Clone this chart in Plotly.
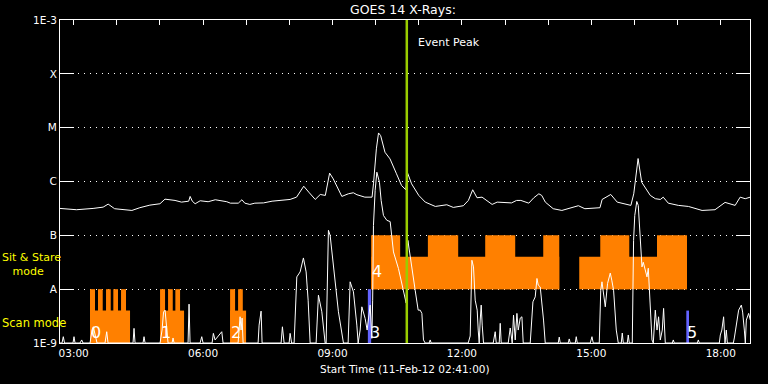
import numpy as np
import pandas as pd
import plotly.graph_objects as go

DAY = "2012-02-11 "

# ---------------- GOES long channel (upper curve) ----------------
long_time = [
    "02:41", "03:04", "03:27", "03:41", "03:48", "03:57", "04:21", "04:32", "04:46", "05:00",
    "05:07", "05:21", "05:30", "05:40", "05:42", "05:45", "05:49", "05:56", "06:07", "06:17",
    "06:33", "06:38", "06:49", "06:54", "06:58", "07:05", "07:12", "07:24", "07:36", "07:59",
    "08:01", "08:10", "08:20", "08:27", "08:36", "08:43", "08:50", "08:56", "09:01", "09:13",
    "09:22", "09:29", "09:34", "09:45", "09:55", "09:57", "10:01", "10:04", "10:07", "10:13",
    "10:20", "10:29", "10:36", "10:42", "10:44", "10:50", "11:00", "11:09", "11:23", "11:39",
    "11:48", "12:02", "12:09", "12:15", "12:21", "12:28", "12:42", "12:49", "13:09", "13:16",
    "13:22", "13:33", "13:40", "13:47", "13:51", "13:56", "14:07", "14:19", "14:31", "14:42",
    "14:51", "15:12", "15:15", "15:22", "15:27", "15:36", "15:47", "15:55", "15:59", "16:01",
    "16:05", "16:10", "16:22", "16:29", "16:36", "16:40", "16:47", "17:01", "17:15", "17:34",
    "17:52", "18:06", "18:13", "18:20", "18:27", "18:34", "18:41"]
long_flux = [
    3.16e-7, 2.99e-7, 3.16e-7, 3.34e-7, 3.80e-7, 3.12e-7, 2.90e-7, 3.26e-7, 3.64e-7, 3.86e-7,
    4.70e-7, 4.45e-7, 4.14e-7, 4.31e-7, 5.28e-7, 4.30e-7, 3.86e-7, 4.39e-7, 4.21e-7, 4.58e-7,
    4.21e-7, 3.96e-7, 3.96e-7, 4.58e-7, 3.96e-7, 3.75e-7, 3.96e-7, 4.00e-7, 4.31e-7, 4.58e-7,
    4.64e-7, 5.12e-7, 8.18e-7, 6.34e-7, 4.64e-7, 5.74e-7, 5.51e-7, 1.43e-6, 1.12e-6, 5.28e-7,
    5.91e-7, 6.18e-7, 5.68e-7, 5.12e-7, 5.12e-7, 9.06e-7, 4.04e-6, 7.98e-6, 7.11e-6, 3.49e-6,
    2.63e-6, 1.39e-6, 8.43e-7, 7.02e-7, 1.49e-6, 9.06e-7, 5.51e-7, 4.14e-7, 3.44e-7, 3.70e-7,
    3.30e-7, 3.55e-7, 4.45e-7, 7.02e-7, 4.99e-7, 5.12e-7, 3.75e-7, 4.14e-7, 4.00e-7, 4.45e-7,
    4.45e-7, 3.96e-7, 4.99e-7, 5.91e-7, 5.51e-7, 4.14e-7, 3.12e-7, 2.90e-7, 3.21e-7, 3.55e-7,
    3.12e-7, 3.26e-7, 4.64e-7, 5.28e-7, 5.74e-7, 4.14e-7, 3.86e-7, 3.60e-7, 5.91e-7, 1.04e-6,
    2.67e-6, 9.70e-7, 5.51e-7, 4.79e-7, 4.64e-7, 5.12e-7, 3.96e-7, 3.60e-7, 3.44e-7, 2.90e-7,
    2.99e-7, 4.09e-7, 3.86e-7, 3.60e-7, 5.12e-7, 4.79e-7, 5.12e-7]

# ---------------- GOES short channel (lower curve) ----------------
short_time = [
    "02:41:00", "02:43:47", "02:45:36", "02:47:16", "02:59:05", "03:00:29", "03:01:52",
    "03:08:50", "03:11:12", "03:13:00", "03:22:45", "03:25:32", "03:27:20", "03:29:42", "03:32:29",
    "03:43:37", "03:45:59", "03:47:48", "04:22:35", "04:23:58", "04:25:22",
    "04:36:30", "04:37:53", "04:39:17",
    "05:00:09", "05:02:56", "05:05:01", "05:07:06", "05:09:12", "05:11:17",
    "05:16:51", "05:18:14", "05:19:38", "05:39:07", "05:40:30", "05:41:54",
    "05:55:49", "05:58:10", "05:59:59",
    "06:12:30", "06:14:19", "06:16:41", "06:26:00", "06:27:49",
    "06:48:41", "06:51:28", "06:52:52", "06:54:15", "06:55:39",
    "07:16:31", "07:17:55", "07:20:41", "07:22:05",
    "07:48:31", "07:50:20", "07:52:42", "07:59:39", "08:01:03", "08:03:08",
    "08:06:37", "08:10:22", "08:14:58", "08:19:33", "08:23:19", "08:26:06", "08:28:53",
    "08:37:13", "08:40:26", "08:45:10", "08:49:45",
    "08:51:08", "08:54:20", "08:56:42", "09:01:18", "09:08:15", "09:15:13",
    "09:21:45", "09:24:32", "09:29:08", "09:33:51", "09:35:40",
    "09:38:27", "09:40:49", "09:45:24", "09:48:11", "09:52:22", "09:54:44", "09:55:51",
    "09:56:58", "09:59:19", "10:01:41", "10:05:18", "10:07:40", "10:10:52", "10:15:36",
    "10:20:12", "10:24:47", "10:31:45", "10:38:42", "10:42:28",
    "10:44:50", "10:49:25", "10:54:59", "10:59:09", "11:01:56", "11:04:18", "11:06:32", "11:08:54",
    "11:14:28", "11:15:51", "11:17:15",
    "12:08:44", "12:11:31", "12:13:53", "12:16:06", "12:18:28", "12:21:15", "12:22:39",
    "12:24:02", "12:25:26", "12:26:49", "12:28:13", "12:30:01",
    "12:43:31", "12:46:18", "12:47:42", "12:51:52", "12:53:16", "12:54:39",
    "13:04:24", "13:07:11", "13:09:57", "13:11:46", "13:14:08", "13:16:30", "13:18:18",
    "13:21:05", "13:23:27", "13:25:16",
    "13:35:00", "13:38:46", "13:41:58", "13:44:20", "13:46:08", "13:48:55", "13:53:31", "13:55:53",
    "14:13:58", "14:15:22", "14:16:45", "14:27:53", "14:29:16", "14:30:40",
    "14:37:37", "14:39:01", "14:40:24", "14:58:30", "15:00:52", "15:02:40",
    "15:11:01", "15:13:06", "15:14:47", "15:16:35", "15:19:22", "15:22:34", "15:26:20",
    "15:28:25", "15:30:56", "15:34:40", "15:37:27",
    "15:41:38", "15:43:01", "15:44:25", "15:49:59", "15:51:22", "15:52:46",
    "15:56:56", "15:58:45", "16:00:25", "16:03:12", "16:05:17", "16:08:04", "16:10:26",
    "16:12:15", "16:15:02", "16:17:24", "16:19:12", "16:21:59", "16:24:21", "16:26:10",
    "16:27:33", "16:28:57", "16:31:19", "16:33:32", "16:35:54", "16:38:41", "16:40:30", "16:42:51",
    "16:52:36", "16:53:59", "16:55:23", "17:27:23", "17:28:47", "17:30:10",
    "17:58:00", "17:59:23", "18:01:29", "18:03:59", "18:05:56", "18:07:44", "18:09:08",
    "18:17:29", "18:18:52", "18:21:39", "18:24:51", "18:28:37", "18:30:25", "18:32:47",
    "18:34:11", "18:35:34", "18:38:47", "18:41:08"]
short_flux = [
    1e-9, 1e-9, 1.31e-9, 1e-9, 1e-9, 1.31e-9, 1e-9,
    1e-9, 1.14e-9, 1e-9, 1e-9, 1.74e-9, 2.00e-9, 1.41e-9, 1e-9,
    1e-9, 1.62e-9, 1e-9, 1e-9, 1.87e-9, 1e-9,
    1e-9, 1.31e-9, 1e-9,
    1e-9, 1.74e-9, 3.75e-9, 4.08e-9, 2.15e-9, 1e-9,
    1e-9, 1.24e-9, 1e-9, 1e-9, 5.27e-9, 1e-9,
    1e-9, 1.31e-9, 1e-9,
    1e-9, 1.51e-9, 1.14e-9, 1.62e-9, 1e-9,
    1e-9, 3.07e-9, 1.74e-9, 2.90e-9, 1e-9,
    1e-9, 2.15e-9, 3.91e-9, 1e-9,
    1e-9, 2.00e-9, 1e-9, 1e-9, 1.51e-9, 1e-9,
    1e-9, 1.69e-8, 2.09e-8, 3.80e-8, 2.09e-8, 6.25e-9, 1e-9,
    1e-9, 7.74e-9, 3.80e-9, 1e-9,
    1e-9, 1.24e-7, 1.00e-7, 2.41e-8, 3.80e-9, 1e-9,
    1e-9, 1.37e-8, 8.91e-9, 2.15e-9, 1e-9,
    1.74e-9, 4.70e-9, 2.86e-9, 1.74e-9, 5.06e-9, 1.22e-9, 6.25e-9,
    1.53e-7, 6.81e-7, 1.49e-6, 9.70e-7, 4.45e-7, 2.34e-7, 1.90e-7,
    1.80e-7, 4.91e-8, 2.41e-8, 9.58e-9, 5.51e-9,
    8.07e-8, 2.78e-8, 9.58e-9, 4.08e-9, 4.08e-9, 3.55e-9, 1.14e-9, 1e-9,
    1e-9, 1.14e-9, 1e-9,
    1e-9, 1.35e-9, 3.44e-8, 2.59e-8, 6.25e-9, 4.08e-9, 1.74e-9,
    1e-9, 2.67e-9, 5.06e-9, 2.15e-9, 1e-9,
    1e-9, 1.62e-9, 1e-9, 1e-9, 2.32e-9, 1e-9,
    1e-9, 1.90e-9, 1e-9, 3.30e-9, 1.14e-9, 3.55e-9, 1.74e-9,
    2.90e-9, 3.07e-9, 1e-9,
    1e-9, 5.82e-9, 7.19e-9, 1.58e-8, 1.19e-8, 1.10e-8, 2.67e-9, 1e-9,
    1e-9, 1.29e-9, 1e-9, 1e-9, 1.19e-9, 1e-9,
    1e-9, 1.31e-9, 1e-9, 1e-9, 1.31e-9, 1e-9,
    1e-9, 9.58e-9, 1.37e-8, 9.58e-9, 4.70e-9, 1.28e-8, 1.99e-8,
    1.47e-8, 9.58e-9, 1.74e-9, 1e-9,
    1e-9, 1.53e-9, 1e-9, 1e-9, 1.41e-9, 1e-9,
    1e-9, 8.07e-8, 2.34e-7, 4.26e-7, 3.59e-7, 9.31e-8, 2.59e-8,
    3.16e-8, 2.25e-8, 1.69e-8, 2.45e-8, 5.43e-9, 1.14e-9, 1e-9,
    2.67e-9, 4.08e-9, 1.74e-9, 3.07e-9, 1.14e-9, 1.74e-9, 4.40e-9, 1e-9,
    1e-9, 1.14e-9, 1e-9, 1e-9, 1.14e-9, 1e-9,
    1e-9, 1.41e-9, 1.74e-9, 3.07e-9, 1e-9, 1.74e-9, 1e-9,
    1e-9, 1.24e-9, 2.15e-9, 4.08e-9, 5.06e-9, 3.75e-9, 1.74e-9,
    1e-9, 2.67e-9, 3.55e-9, 2.67e-9]

# ---------------- Observation timeline ----------------
scan_block_start = ["03:22:45", "05:00:09", "06:37:33"]
scan_block_end = ["04:18:24", "05:33:33", "06:59:49"]
scan_block_top = 4e-9
scan_raster_start = ["03:22:45", "03:33:53", "03:45:01", "03:55:10", "04:05:53",
                     "05:00:09", "05:11:17", "05:21:26", "06:37:33", "06:48:41"]
scan_raster_end = ["03:29:42", "03:40:25", "03:51:33", "04:01:42", "04:12:50",
                   "05:07:06", "05:17:49", "05:27:59", "06:44:31", "06:55:14"]
scan_raster_top = 1e-8

sit_block_start = ["09:53:45", "14:43:11"]
sit_block_end = ["14:15:22", "17:13:03"]
sit_block_top = 4e-8
sit_high_start = ["09:53:45", "11:12:39", "12:32:23", "13:53:06", "15:12:25", "16:31:19"]
sit_high_end = ["10:34:07", "11:54:49", "13:14:08", "14:15:22", "15:52:46", "17:13:03"]
sit_high_top = 1e-7
sit_base = 1e-8

marker_start = ["09:49:10", "17:12:05"]
marker_end = ["09:53:45", "17:15:50"]
marker_top = [1e-8, 4e-9]

obs_label = ["0", "1", "2", "3", "4", "5"]
obs_label_time = ["03:22:45", "05:00:09", "06:37:33", "09:50:30", "09:53:45", "17:12:05"]
obs_label_flux = [1.6e-9, 1.6e-9, 1.6e-9, 1.6e-9, 2.1e-8, 1.6e-9]

event_peak = "10:43:20"
x_start, x_end = "02:41:00", "18:40:40"

y_tickvals = [1e-9, 1e-8, 1e-7, 1e-6, 1e-5, 1e-4, 1e-3]
y_ticktext = ["1E-9", "A", "B", "C", "M", "X", "1E-3"]

ORANGE = "#ff8000"
BLUE = "#6464ff"
GREEN = "#9acd00"
FONT = "DejaVu Sans"


def ts(t):
    return pd.to_datetime([DAY + v for v in t])


def bar_trace(starts, ends, top, base, color):
    s = ts(starts)
    e = ts(ends)
    mid = s + (e - s) / 2
    width = (e - s) / pd.Timedelta(milliseconds=1)
    tops = np.broadcast_to(np.asarray(top, dtype=float), (len(s),))
    return go.Bar(x=mid, y=tops - base, base=[base] * len(s), width=list(width),
                  marker=dict(color=color, line=dict(width=0)), hoverinfo="skip",
                  showlegend=False)


fig = go.Figure()
fig.add_trace(bar_trace(scan_block_start, scan_block_end, scan_block_top, 1e-9, ORANGE))
fig.add_trace(bar_trace(scan_raster_start, scan_raster_end, scan_raster_top, 1e-9, ORANGE))
fig.add_trace(bar_trace(sit_block_start, sit_block_end, sit_block_top, sit_base, ORANGE))
fig.add_trace(bar_trace(sit_high_start, sit_high_end, sit_high_top, sit_base, ORANGE))
fig.add_trace(bar_trace(marker_start, marker_end, marker_top, 1e-9, BLUE))

fig.add_trace(go.Scatter(x=ts(short_time), y=short_flux, mode="lines",
                         line=dict(color="white", width=1), showlegend=False))
fig.add_trace(go.Scatter(x=ts(long_time), y=long_flux, mode="lines", xaxis="x2",
                         line=dict(color="white", width=1), showlegend=False))

fig.add_vline(x=pd.Timestamp(DAY + event_peak), line=dict(color=GREEN, width=2.5))

rng = [DAY + x_start, DAY + x_end]
fig.update_layout(
    width=768, height=384,
    margin=dict(l=60, r=18, t=20, b=41),
    paper_bgcolor="black", plot_bgcolor="black",
    barmode="overlay",
    font=dict(family=FONT, color="white", size=11),
    xaxis=dict(type="date", range=rng, tickformat="%H:%M", dtick=3 * 3600000,
               tick0=DAY + "03:00", ticks="", showgrid=False, zeroline=False,
               showline=True, linecolor="white", linewidth=1, mirror=True,
               tickfont=dict(size=10.5, color="white")),
    xaxis2=dict(type="date", range=rng, overlaying="x", side="top", anchor="y",
                dtick=3600000, tick0=DAY + "03:00", ticks="inside", ticklen=5,
                tickcolor="white", showticklabels=False, showgrid=False,
                zeroline=False, showline=False),
    yaxis=dict(type="log", range=[-9, -3], tickmode="array", tickvals=y_tickvals,
               ticktext=y_ticktext, ticks="inside", ticklen=14, tickcolor="white",
               showline=True, linecolor="white", linewidth=1, mirror="ticks",
               showgrid=True, gridcolor="white", gridwidth=1, griddash="1px,5px",
               zeroline=False, tickfont=dict(size=10.5, color="white")),
)

ann = []
ann.append(dict(text="GOES 14 X-Rays:", xref="paper", yref="paper", x=0.4964, y=1.0,
                yshift=11, xanchor="center", yanchor="middle", showarrow=False,
                font=dict(size=12.5, color="white")))
ann.append(dict(text="Start Time (11-Feb-12 02:41:00)", xref="paper", yref="paper",
                x=0.5, y=0, yshift=-26, xanchor="center", yanchor="middle",
                showarrow=False, font=dict(size=10.5, color="white")))
ann.append(dict(text="Event Peak", xref="x", yref="paper", x=pd.Timestamp(DAY + event_peak),
                y=0.930, xshift=9, xanchor="left", yanchor="middle", showarrow=False,
                font=dict(size=11, color="white")))
ann.append(dict(text="Sit & Stare<br>\u00a0\u00a0\u00a0mode", xref="paper", yref="paper",
                x=-0.087, y=0.242, xanchor="left", yanchor="middle", align="left",
                showarrow=False, font=dict(size=11, color="#ffff00")))
ann.append(dict(text="Scan mode", xref="paper", yref="paper", x=-0.087, y=0.0604,
                xanchor="left", yanchor="middle", showarrow=False,
                font=dict(size=11.5, color="#ffff00")))
for lab, t, f in zip(obs_label, obs_label_time, obs_label_flux):
    ann.append(dict(text=lab, xref="x", yref="y", x=pd.Timestamp(DAY + t),
                    y=np.log10(f), xanchor="left", yanchor="middle", showarrow=False,
                    xshift=-1, font=dict(size=16, color="white")))
fig.update_layout(annotations=ann)

fig.write_html("out.html")
